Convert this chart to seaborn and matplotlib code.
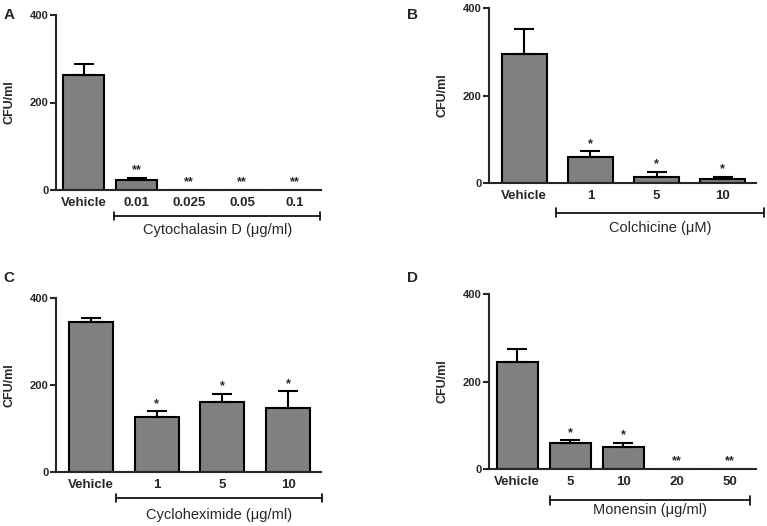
import pandas as pd
import matplotlib.pyplot as plt
import matplotlib.transforms as mtransforms
import seaborn as sns

# -------------------------------
# Data (CFU/ml, mean and upper SEM)
# -------------------------------

# A - Cytochalasin D
a_labels = ['Vehicle', '0.01', '0.025', '0.05', '0.1']
a_means = [264, 24, 0, 0, 0]
a_errs = [23, 4, 0, 0, 0]
a_stars = ['', '**', '**', '**', '**']

# B - Colchicine
b_labels = ['Vehicle', '1', '5', '10']
b_means = [294, 60, 13, 10]
b_errs = [58, 13, 13, 4]
b_stars = ['', '*', '*', '*']

# C - Cycloheximide
c_labels = ['Vehicle', '1', '5', '10']
c_means = [344, 126, 160, 147]
c_errs = [9, 14, 20, 39]
c_stars = ['', '*', '*', '*']

# D - Monensin
d_labels = ['Vehicle', '5', '10', '20', '50']
d_means = [244, 60, 50, 0, 0]
d_errs = [30, 6, 10, 0, 0]
d_stars = ['', '*', '*', '**', '**']

# Set up visualization styles
sns.set_style("ticks")
plt.rcParams['font.family'] = ['Liberation Sans', 'DejaVu Sans']

fig = plt.figure(figsize=(7.67, 5.26), dpi=100)
W, H = 767, 526


def px_rect(left, top, right, bottom):
    return [left / W, 1 - bottom / H, (right - left) / W, (bottom - top) / H]


def draw_panel(rect, letter, letter_xy, labels, means, errs, stars, width,
               bracket_span, bracket_y, label_y, bracket_label):
    ax = fig.add_axes(rect)
    df = pd.DataFrame({'dose': labels, 'cfu': means})
    sns.barplot(data=df, x='dose', y='cfu', color='#808080', saturation=1,
                width=width, edgecolor='black', linewidth=1.5, ax=ax)

    # one-sided error bars
    for i, (m, e) in enumerate(zip(means, errs)):
        if e > 0:
            ax.errorbar(i, m, yerr=[[0], [e]], fmt='none', ecolor='black',
                        elinewidth=1.5, capsize=7, capthick=1.5, zorder=1)

    # significance marks
    for i, (m, e, s) in enumerate(zip(means, errs, stars)):
        if s:
            ax.annotate(s, (i, m + e), xytext=(0, 1), textcoords='offset points',
                        ha='center', va='bottom', fontsize=9, fontweight='bold')

    n = len(labels)
    ax.set_xlim(-0.53, n - 0.5)
    ax.set_ylim(0, 400)
    ax.set_yticks([0, 200, 400])
    ax.set_xlabel('')
    ax.set_ylabel('CFU/ml', fontsize=9, fontweight='bold')
    ax.yaxis.set_label_coords(-0.153, 0.5)
    ax.tick_params(axis='x', length=0, pad=5, labelsize=9.5)
    ax.tick_params(axis='y', length=4, width=1.5, pad=1.5, labelsize=8)
    for t in ax.get_xticklabels() + ax.get_yticklabels():
        t.set_fontweight('bold')
    sns.despine(ax=ax)
    for side in ['left', 'bottom']:
        ax.spines[side].set_linewidth(1.5)

    # treatment bracket under the axis
    trans = mtransforms.blended_transform_factory(ax.transData, ax.transAxes)
    x0, x1 = bracket_span
    ax.plot([x0, x1], [bracket_y, bracket_y], color='black', lw=1.2,
            transform=trans, clip_on=False)
    for xx in (x0, x1):
        ax.plot([xx, xx], [bracket_y - 0.025, bracket_y + 0.025], color='black',
                lw=1.2, transform=trans, clip_on=False)
    ax.text((x0 + x1) / 2, label_y, bracket_label, transform=trans,
            ha='center', va='center', fontsize=10.5)

    fig.text(letter_xy[0] / W, 1 - letter_xy[1] / H, letter, ha='center',
             va='center', fontsize=11, fontweight='bold')
    return ax


draw_panel(px_rect(56, 15, 321, 190), 'A', (9, 15), a_labels, a_means, a_errs,
           a_stars, 0.78, (0.57, 4.49), -0.149, -0.229,
           'Cytochalasin D (\u03bcg/ml)')
draw_panel(px_rect(489, 8, 756, 183), 'B', (413, 15), b_labels, b_means, b_errs,
           b_stars, 0.68, (0.48, 3.62), -0.17, -0.258,
           'Colchicine (\u03bcM)')
draw_panel(px_rect(56, 298, 321, 472), 'C', (9, 278), c_labels, c_means, c_errs,
           c_stars, 0.67, (0.39, 3.52), -0.149, -0.246,
           'Cycloheximide (\u03bcg/ml)')
draw_panel(px_rect(489, 294, 756, 469), 'D', (413, 278), d_labels, d_means, d_errs,
           d_stars, 0.77, (0.61, 4.38), -0.179, -0.236,
           'Monensin (\u03bcg/ml)')

plt.savefig('out.png', dpi=100)
